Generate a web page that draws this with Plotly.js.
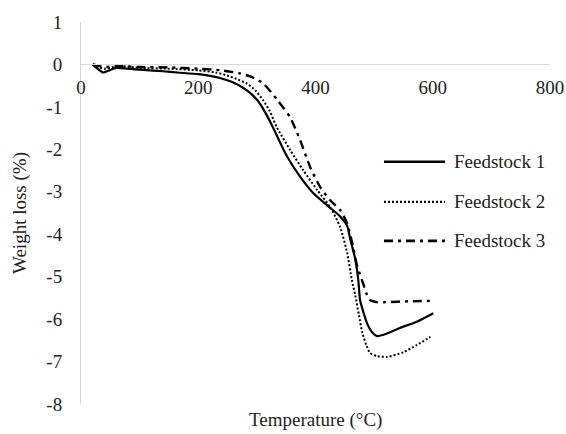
<!DOCTYPE html>
<html>
<head>
<meta charset="utf-8">
<script src="https://cdn.plot.ly/plotly-3.0.1.min.js"></script>
<style>html,body{margin:0;padding:0;background:#fff;}#chart{width:566px;height:434px;}</style>
</head>
<body>
<div id="chart"></div>
<script>
var seriesNames = ["Feedstock 1", "Feedstock 2", "Feedstock 3"];

var temp1 = [20, 30, 38, 48, 60, 80, 106, 140, 164, 200, 220, 240, 259, 280, 294, 305, 317, 328, 340, 352, 374, 396, 420, 442, 454, 459, 468, 473, 476, 482, 488, 496, 505, 520, 544, 573, 601];
var loss1 = [0, -0.12, -0.19, -0.14, -0.08, -0.1, -0.13, -0.16, -0.19, -0.23, -0.27, -0.33, -0.42, -0.58, -0.74, -0.92, -1.2, -1.5, -1.85, -2.18, -2.65, -3.03, -3.32, -3.58, -3.8, -4.1, -4.6, -5.08, -5.55, -5.85, -6.1, -6.3, -6.4, -6.35, -6.21, -6.06, -5.86];

var temp2 = [20, 30, 40, 55, 70, 100, 150, 200, 230, 249, 265, 283, 298, 311, 322, 334, 357, 379, 403, 425, 442, 454, 462, 468, 474, 480, 487, 493, 505, 522, 550, 573, 596];
var loss2 = [0, -0.06, -0.1, -0.06, -0.04, -0.08, -0.1, -0.14, -0.19, -0.26, -0.34, -0.45, -0.62, -0.85, -1.1, -1.48, -2.02, -2.49, -2.96, -3.36, -3.83, -4.44, -5.08, -5.45, -5.9, -6.33, -6.62, -6.8, -6.87, -6.89, -6.78, -6.61, -6.42];

var temp3 = [20, 30, 40, 60, 100, 150, 200, 240, 271, 292, 311, 334, 345, 357, 374, 391, 408, 425, 442, 454, 464, 471, 476, 481, 487, 493, 505, 520, 560, 600];
var loss3 = [0, -0.03, -0.06, -0.04, -0.06, -0.07, -0.1, -0.14, -0.21, -0.3, -0.45, -0.82, -1.02, -1.25, -1.79, -2.42, -2.89, -3.2, -3.43, -3.74, -4.3, -4.75, -4.95, -5.15, -5.4, -5.55, -5.6, -5.6, -5.58, -5.57];

var xTicks = [0, 200, 400, 600, 800];
var yTicks = [1, 0, -1, -2, -3, -4, -5, -6, -7, -8];

var styles = [
  {dash: "solid", width: 2.2},
  {dash: "2px,2px", width: 2},
  {dash: "9px,5px,3px,5px", width: 2.4}
];

var temps = [temp1, temp2, temp3];
var losses = [loss1, loss2, loss3];

var FONT = "Liberation Serif";
var TXT = "#222";
var traces = [];
for (var i = 0; i < 3; i++) {
  traces.push({
    x: temps[i], y: losses[i], type: "scatter", mode: "lines",
    name: seriesNames[i], showlegend: false,
    line: {color: "#000", width: styles[i].width, dash: styles[i].dash, shape: "spline", smoothing: 0.6}
  });
}

// manual legend (paper coords)
var legY = [0.634, 0.529, 0.427];
var shapes = [];
var annotations = [];
for (var j = 0; j < 3; j++) {
  shapes.push({type: "line", xref: "paper", yref: "paper", x0: 0.646, x1: 0.776, y0: legY[j], y1: legY[j],
    line: {color: "#000", width: styles[j].width + 0.3, dash: styles[j].dash}});
  annotations.push({xref: "paper", yref: "paper", x: 0.791, y: legY[j], xanchor: "left", yanchor: "middle",
    text: seriesNames[j], showarrow: false, font: {family: FONT, size: 19, color: TXT}});
}
annotations.push({xref: "paper", yref: "paper", x: 0.5, y: -0.042, xanchor: "center", yanchor: "middle",
  text: "Temperature (°C)", showarrow: false, font: {family: FONT, size: 19, color: TXT}});

var layout = {
  width: 566, height: 434,
  margin: {l: 81, r: 16, t: 22, b: 30},
  paper_bgcolor: "#fff", plot_bgcolor: "#fff",
  font: {family: FONT, size: 19, color: TXT},
  showlegend: false,
  xaxis: {
    range: [0, 800], tickvals: xTicks, ticktext: xTicks.map(String),
    anchor: "free", position: 8 / 9,
    showline: true, linecolor: "#d9d9d9", linewidth: 1,
    showgrid: false, zeroline: false, ticks: "",
    ticklabelstandoff: 6,
    tickfont: {family: FONT, size: 19, color: TXT}
  },
  yaxis: {
    range: [-8, 1], tickvals: yTicks, ticktext: yTicks.map(String),
    showline: true, linecolor: "#d9d9d9", linewidth: 1,
    showgrid: false, zeroline: false, ticks: "",
    ticklabelstandoff: 14,
    tickfont: {family: FONT, size: 19, color: TXT},
    title: {text: "Weight loss (%)", font: {family: FONT, size: 19, color: TXT}, standoff: 14}
  },
  shapes: shapes,
  annotations: annotations
};

Plotly.newPlot("chart", traces, layout, {displayModeBar: false, staticPlot: true});
</script>
</body>
</html>
